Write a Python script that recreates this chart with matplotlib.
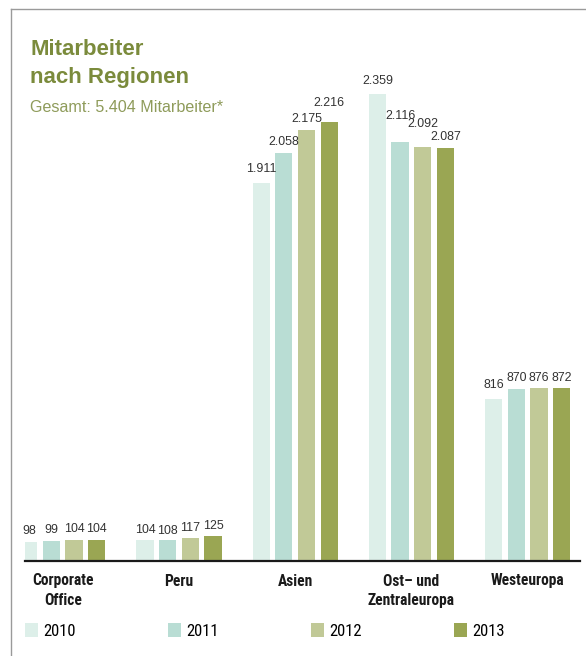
import matplotlib
matplotlib.use('Agg')
import matplotlib.pyplot as plt
from matplotlib.lines import Line2D
from matplotlib.patches import Patch
import numpy as np

regions = ['Corporate\nOffice', 'Peru', 'Asien', 'Ost– und\nZentraleuropa', 'Westeuropa']
years = ['2010', '2011', '2012', '2013']
v2010 = [98, 104, 1911, 2359, 816]
v2011 = [99, 108, 2058, 2116, 870]
v2012 = [104, 117, 2175, 2092, 876]
v2013 = [104, 125, 2216, 2087, 872]
colors = ['#ddefe9', '#b9ddd4', '#c1c997', '#9aa653']

# gap (px) between bar top and its value label, staggered like the original
label_gap = [[5, 4, 8, 7, 8],
             [5, 3, 5, 20, 5],
             [5, 4, 5, 17, 4],
             [5, 4, 13, 5, 4]]

narrow = ['Liberation Sans Narrow', 'Roboto Condensed', 'Liberation Sans', 'DejaVu Sans']
plain = ['Liberation Sans', 'DejaVu Sans']

fig = plt.figure(figsize=(5.86, 6.56), dpi=100)
W, H = 586, 656
ax = fig.add_axes([25 / W, (H - 561) / H, 555 / W, (561 - 60) / H])

x = np.arange(len(regions))
width = 0.148
step = 0.195
series = [v2010, v2011, v2012, v2013]
for i, vals in enumerate(series):
    bars = ax.bar(x + (i - 1.5) * step, vals, width, color=colors[i], zorder=2)
    for b, v, g in zip(bars, vals, label_gap[i]):
        ax.annotate(f'{v:,}'.replace(',', '.'),
                    (b.get_x() + b.get_width() / 2, b.get_height()),
                    xytext=(0, g * 0.72), textcoords='offset points',
                    ha='center', va='bottom', fontsize=8.9,
                    color='#333333', family=plain)

ax.set_xlim(-0.325, 4.451)
ax.set_ylim(0, 2530)
ax.set_yticks([])
ax.set_xticks(x)
ax.set_xticklabels(regions, fontsize=11.2, fontweight='bold', family=narrow,
                   linespacing=1.35, color='#1a1a1a')
ax.tick_params(axis='x', length=0, pad=9)
for s in ['top', 'right', 'left']:
    ax.spines[s].set_visible(False)
ax.spines['bottom'].set_color('#1a1a1a')
ax.spines['bottom'].set_linewidth(1.6)
ax.patch.set_alpha(0)

# title block
fig.text(30 / W, 1 - 55 / H, 'Mitarbeiter', fontsize=16, fontweight='bold',
         color='#7b8b3c', family=plain, va='baseline')
fig.text(30 / W, 1 - 83 / H, 'nach Regionen', fontsize=16, fontweight='bold',
         color='#7b8b3c', family=plain, va='baseline')
fig.text(30 / W, 1 - 112 / H, 'Gesamt: 5.404 Mitarbeiter*', fontsize=11.6,
         color='#8e9b5a', family=plain, va='baseline')

# frame lines
fig.add_artist(Line2D([11 / W, 11 / W], [0, 1 - 9 / H], color='#9a9a9a', lw=1))
fig.add_artist(Line2D([11 / W, 1], [1 - 9 / H, 1 - 9 / H], color='#9a9a9a', lw=1))

handles = [Patch(facecolor=c, edgecolor='none') for c in colors]
fig.legend(handles, years, loc='center left', ncol=4, mode='expand',
           bbox_to_anchor=(25 / W, 1 - 631 / H, 480 / W, 0.0), frameon=False,
           prop={'family': narrow, 'size': 12}, handlelength=0.78,
           handleheight=0.95, handletextpad=0.3, borderaxespad=0, borderpad=0)

fig.savefig('out.png', dpi=100)
